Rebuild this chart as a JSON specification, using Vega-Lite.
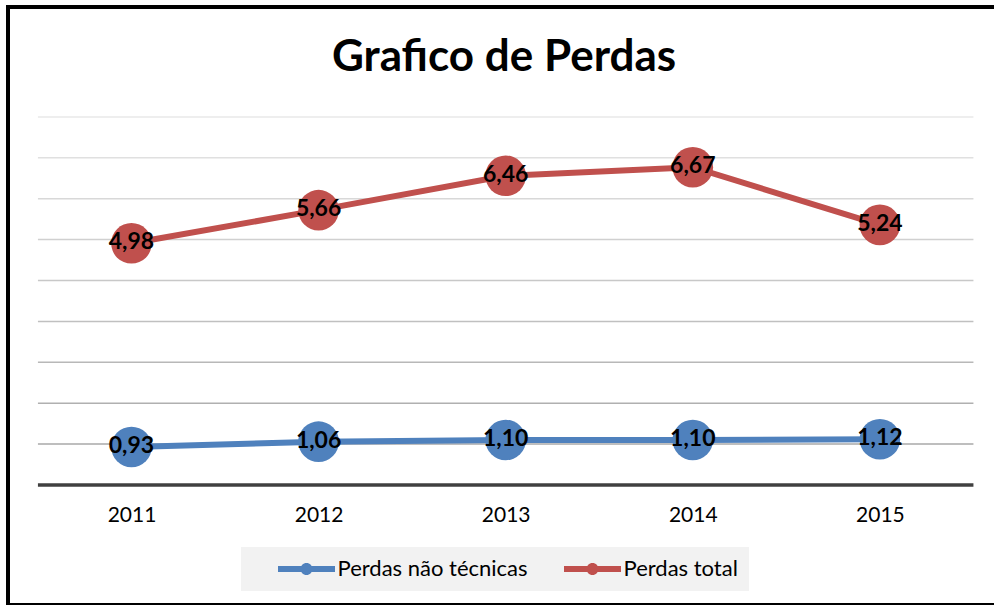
{
  "$schema": "https://vega.github.io/schema/vega-lite/v6.json",
  "autosize": {"type": "none"},
  "padding": {"left": 8, "top": 7, "right": 0, "bottom": 0},
  "width": 992,
  "height": 598,
  "background": "white",
  "config": {
    "view": {"stroke": "#000000", "strokeWidth": 4},
    "locale": {"number": {"decimal": ",", "thousands": ".", "grouping": [3], "currency": ["", ""]}}
  },
  "title": {
    "text": "Grafico de Perdas",
    "font": "Lato",
    "fontSize": 44,
    "fontWeight": "bold",
    "color": "#000000",
    "anchor": "middle",
    "frame": "group",
    "baseline": "alphabetic",
    "offset": -108
  },
  "datasets": {
    "perdas": [
      {"year": 2011, "series": "Perdas não técnicas", "value": 0.93},
      {"year": 2012, "series": "Perdas não técnicas", "value": 1.06},
      {"year": 2013, "series": "Perdas não técnicas", "value": 1.10},
      {"year": 2014, "series": "Perdas não técnicas", "value": 1.10},
      {"year": 2015, "series": "Perdas não técnicas", "value": 1.12},
      {"year": 2011, "series": "Perdas total", "value": 4.98},
      {"year": 2012, "series": "Perdas total", "value": 5.66},
      {"year": 2013, "series": "Perdas total", "value": 6.46},
      {"year": 2014, "series": "Perdas total", "value": 6.67},
      {"year": 2015, "series": "Perdas total", "value": 5.24}
    ],
    "grid": [{"v": 1}, {"v": 2}, {"v": 3}, {"v": 4}, {"v": 5}, {"v": 6}, {"v": 7}, {"v": 8}, {"v": 9}],
    "baseline": [{"v": 0}]
  },
  "layer": [
    {
      "data": {"name": "grid"},
      "mark": {"type": "rule", "strokeWidth": 1.5},
      "encoding": {
        "y": {"field": "v", "type": "quantitative", "axis": null, "scale": {"domain": [-2.934, 11.687], "nice": false, "zero": false}},
        "x": {
          "datum": 2010.5, "type": "quantitative",
          "scale": {"domain": [2010.34, 2015.642], "nice": false, "zero": false},
          "axis": {"values": [2011, 2012, 2013, 2014, 2015], "format": "d", "title": null, "grid": false, "domain": false, "ticks": false, "labelPadding": 0, "offset": -90, "labelBaseline": "middle", "labelFont": "Lato", "labelFontSize": 21, "labelColor": "#000000"}
        },
        "x2": {"datum": 2015.5},
        "stroke": {"field": "v", "type": "quantitative", "legend": null, "scale": {"domain": [1, 9], "range": ["#a8a8a8", "#e8e8e8"]}}
      }
    },
    {
      "data": {"name": "baseline"},
      "mark": {"type": "rule", "strokeWidth": 3.5, "color": "#404040"},
      "encoding": {
        "y": {"field": "v", "type": "quantitative", "axis": null, "scale": {"domain": [-2.934, 11.687], "nice": false, "zero": false}},
        "x": {"datum": 2010.5, "type": "quantitative", "scale": {"domain": [2010.34, 2015.642], "nice": false, "zero": false}},
        "x2": {"datum": 2015.5}
      }
    },
    {
      "data": {"name": "perdas"},
      "transform": [
        {"stack": "value", "groupby": ["year"], "sort": [{"field": "series", "order": "ascending"}], "as": ["y0", "y1"]}
      ],
      "encoding": {
        "x": {"field": "year", "type": "quantitative", "scale": {"domain": [2010.34, 2015.642], "nice": false, "zero": false}},
        "y": {"field": "y1", "type": "quantitative", "axis": null, "scale": {"domain": [-2.934, 11.687], "nice": false, "zero": false}},
        "color": {
          "field": "series", "type": "nominal",
          "scale": {"domain": ["Perdas não técnicas", "Perdas total"], "range": ["#4F81BD", "#C0504D"]},
          "legend": {
            "orient": "none",
            "legendX": 233,
            "legendY": 540,
            "direction": "horizontal",
            "title": null,
            "fillColor": "#f2f2f2",
            "padding": 11,
            "symbolType": "M-2.85,-0.3L2.85,-0.3L2.85,0.3L-2.85,0.3Z M-0.6,0 A0.6,0.6 0 1 1 0.6,0 A0.6,0.6 0 1 1 -0.6,0 Z",
            "symbolSize": 400,
            "symbolStrokeWidth": 0,
            "symbolOffset": 43.5,
            "labelOffset": 20,
            "labelLimit": 400,
            "labelFont": "Lato",
            "labelFontSize": 22,
            "labelColor": "#000000",
            "columnPadding": 10,
            "encode": {"symbols": {"update": {"fill": {"scale": "color", "field": "value"}, "stroke": {"value": "transparent"}, "opacity": {"value": 1}}}}
          }
        }
      },
      "layer": [
        {"mark": {"type": "line", "strokeWidth": 6}},
        {"mark": {"type": "circle", "size": 1650, "opacity": 1}},
        {
          "mark": {"type": "text", "font": "Lato", "fontSize": 23, "fontWeight": "bold", "color": "#000000", "baseline": "middle", "align": "center", "dy": -1},
          "encoding": {
            "text": {"field": "value", "type": "quantitative", "format": ".2f"},
            "color": {"value": "#000000"}
          }
        }
      ]
    }
  ]
}
